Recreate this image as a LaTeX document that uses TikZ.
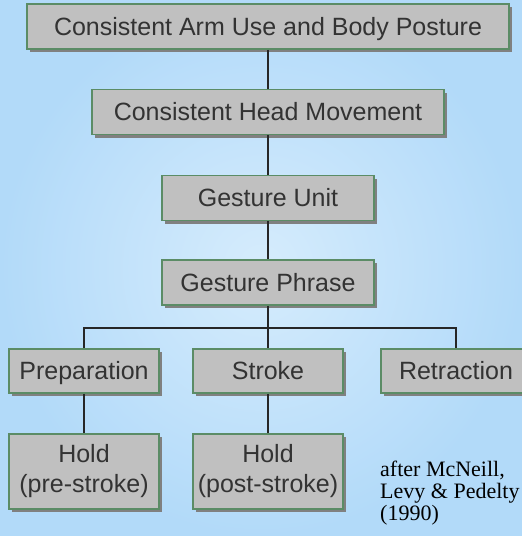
\documentclass[tikz,border=0pt]{standalone}
\usepackage{fontspec}
\setmainfont{Liberation Sans}
\newfontfamily\citefont{Liberation Serif}
\usetikzlibrary{shadows}
\definecolor{bgblue}{HTML}{C4E4FB}
\definecolor{bgedge}{HTML}{B2DAF9}
\definecolor{boxgray}{HTML}{C0C0C0}
\definecolor{boxline}{HTML}{5B8C66}
\definecolor{textgray}{HTML}{333333}
\begin{document}
\begin{tikzpicture}[x=1pt, y=-1pt,
    box/.style={draw=boxline, line width=1.6pt, fill=boxgray, text=textgray,
      inner sep=0pt, minimum height=45pt,
      font=\fontsize{25}{30}\selectfont,
      drop shadow={opacity=1, fill=black!50, shadow xshift=3pt, shadow yshift=-3pt}},
    oneline/.style={box, text height=17pt, text depth=0pt},
    link/.style={line width=2.4pt, draw=black!85}]
  % ==================== background ====================
  \useasboundingbox (0,0) rectangle (522,536);
  \shade[inner color=bgblue!70!white, outer color=bgedge] (0,0) rectangle (522,536);

  % ==================== upper chain ====================
  \node[oneline, minimum width=482pt] (arm) at (268,26.5) {Consistent Arm Use and Body Posture};
  \node[oneline, minimum width=352pt] (head) at (268,112) {Consistent Head Movement};
  \node[oneline, minimum width=212pt] (unit) at (268,198) {Gesture Unit};
  \node[oneline, minimum width=212pt] (phrase) at (268,282.5) {Gesture Phrase};

  % ==================== phases ====================
  \node[oneline, minimum width=150pt, minimum height=44pt] (prep) at (84,371) {Preparation};
  \node[oneline, minimum width=150pt, minimum height=44pt] (stroke) at (268,371) {Stroke};
  \node[oneline, minimum width=150pt, minimum height=44pt] (retract) at (456,371) {Retraction};

  % holds under preparation and stroke
  \node[box, minimum width=150pt, minimum height=75pt, align=center] (holdpre) at (84,471.5) {Hold\\(pre-stroke)};
  \node[box, minimum width=150pt, minimum height=75pt, align=center] (holdpost) at (268,471.5) {Hold\\(post-stroke)};

  % source note
  \node[anchor=north west, inner sep=0pt, align=left, font=\citefont\fontsize{22}{22}\selectfont] (source) at (380,461)
    {after McNeill,\\Levy \& Pedelty\\(1990)};

  % ==================== connectors ====================
  \coordinate (bus) at (268,328);
  \draw[link] (arm) -- (head);
  \draw[link] (head) -- (unit);
  \draw[link] (unit) -- (phrase);
  \draw[link] (phrase) -- (stroke);
  \draw[link] (prep.north) |- (bus) -| (retract.north);
  \draw[link] (prep) -- (holdpre);
  \draw[link] (stroke) -- (holdpost);
\end{tikzpicture}
\end{document}
